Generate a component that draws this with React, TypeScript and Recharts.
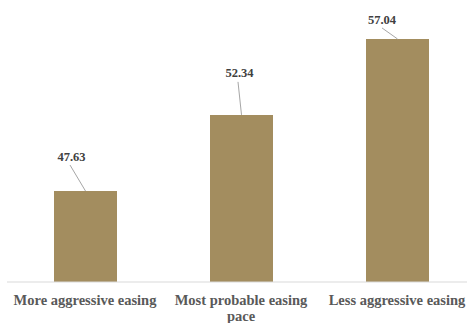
import React from "react";
import { BarChart, Bar, XAxis, YAxis, LabelList } from "recharts";

const categories = ["More aggressive easing", "Most probable easing pace", "Less aggressive easing"];
const values = [47.63, 52.34, 57.04];

// label placement relative to top-center of bar: [textDx, textDy, lineDx, lineDy]
const labelOffsets: number[][] = [
  [-14, -34, -15.5, -26],
  [-2, -42, -3.5, -33],
  [-15.5, -19, -15.5, -11],
];

const data = categories.map((c, i) => ({ name: c, value: values[i] }));

const FONT = "'Liberation Serif', 'DejaVu Serif', serif";

const wrap = (s: string): string[] => {
  if (s.length <= 22) return [s];
  const idx = s.lastIndexOf(" ");
  return [s.slice(0, idx), s.slice(idx + 1)];
};

const Tick = (props: any) => {
  const { x, y, payload } = props;
  const lines = wrap(String(payload.value));
  return (
    <text x={x} y={y} textAnchor="middle" fill="#595959" fontFamily={FONT} fontWeight="bold" fontSize={14.5}>
      {lines.map((l, i) => (
        <tspan key={i} x={x} dy={i === 0 ? 15 : 16}>
          {l}
        </tspan>
      ))}
    </text>
  );
};

const ValueLabel = (props: any) => {
  const { x, y, width, value, index } = props;
  const cx = x + width / 2;
  const o = labelOffsets[index] || [0, -10, 0, -5];
  return (
    <g>
      <line x1={cx + o[2]} y1={y + o[3]} x2={cx} y2={y} stroke="#a6a6a6" strokeWidth={1} />
      <text
        x={cx + o[0]}
        y={y + o[1]}
        textAnchor="middle"
        dominantBaseline="central"
        fill="#404040"
        fontFamily={FONT}
        fontWeight="bold"
        fontSize={12.5}
      >
        {value.toFixed(2)}
      </text>
    </g>
  );
};

export default function App() {
  return (
    <div style={{ position: "absolute", left: 0, top: 0, background: "#fff" }}>
      <BarChart
        width={475}
        height={323}
        data={data}
        margin={{ top: 0, right: 0, left: 7, bottom: 0 }}
        barSize={63}
      >
        <XAxis
          dataKey="name"
          axisLine={{ stroke: "#d9d9d9", strokeWidth: 1 }}
          tickLine={false}
          tick={<Tick />}
          interval={0}
          height={41}
        />
        <YAxis hide domain={[42, 59.45]} allowDataOverflow />
        <Bar dataKey="value" fill="#a38d5f" isAnimationActive={false}>
          <LabelList dataKey="value" content={<ValueLabel />} />
        </Bar>
      </BarChart>
    </div>
  );
}
